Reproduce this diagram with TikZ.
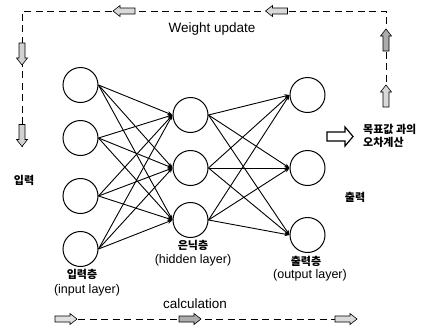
\documentclass[tikz,border=0pt]{standalone}
\usepackage{fontspec}
\setmainfont{Liberation Sans}
\newfontfamily\kr{Noto Sans CJK KR}
\usetikzlibrary{arrows.meta}
\begin{document}
\begin{tikzpicture}[x=1pt,y=-1pt,
  neuron/.style={circle,draw,line width=1pt,minimum size=35pt,inner sep=0pt},
  link/.style={line width=0.9pt,-{Stealth[length=5pt,width=4pt]}},
  frame/.style={line width=1pt,dash pattern=on 7pt off 4.5pt},
  entxt/.style={font=\fontsize{12.5}{13}\selectfont,inner sep=0pt},
  krtxt/.style={font=\kr\bfseries\fontsize{11}{12}\selectfont,inner sep=0pt},
  blk/.pic={\draw[fill=#1,line width=0.6pt] (-11,-3) -- (4,-3) -- (4,-5.5) -- (11,0) -- (4,5.5) -- (4,3) -- (-11,3) -- cycle;},
]
\useasboundingbox (0,0) rectangle (427,332);
% neurons
\node[neuron] (i1) at (80.5,85) {};
\node[neuron] (i2) at (80.5,138) {};
\node[neuron] (i3) at (80.5,196) {};
\node[neuron] (i4) at (80.5,249) {};
\node[neuron] (h1) at (190.5,115) {};
\node[neuron] (h2) at (190.5,168) {};
\node[neuron] (h3) at (190.5,220) {};
\node[neuron] (o1) at (307.5,95) {};
\node[neuron] (o2) at (307.5,168) {};
\node[neuron] (o3) at (307.5,235) {};
% links
\foreach \i in {1,2,3,4}{\foreach \h in {1,2,3}{\draw[link] (i\i.east) -- (h\h.west);}}
\foreach \h in {1,2,3}{\foreach \o in {1,2,3}{\draw[link] (h\h.east) -- (o\o.west);}}
% frame
\coordinate (fl) at (22,147);
\coordinate (ftl) at (22,11);
\coordinate (ftr) at (386,11);
\coordinate (fr) at (386,108);
\draw[frame] (fl) -- (ftl) -- (ftr) -- (fr);
\coordinate (bl) at (55,319);
\coordinate (br) at (357,319);
\draw[frame] (bl) -- (br);
% block arrows
\pic[rotate=180] at (124,11) {blk=gray!30};
\pic[rotate=180] at (276.5,11) {blk=gray!30};
\pic[rotate=-90] at (22,54) {blk=gray!35};
\pic[rotate=-90] at (22,135.5) {blk=gray!35};
\pic[rotate=90] at (386,40) {blk=gray!65};
\pic[rotate=90] at (386,96) {blk=gray!30};
\pic at (66,319) {blk=gray!25};
\pic at (190,319) {blk=gray!65};
\pic at (346,319) {blk=gray!30};
% hollow arrow
\draw[line width=1.2pt,fill=white] (327,132) -- (345,132) -- (345,127) -- (353,136.5) -- (345,146) -- (345,141) -- (327,141) -- cycle;
% texts
\node[font=\fontsize{13.5}{14}\selectfont,inner sep=0pt] (tw) at (212,29) {Weight update};
\node[font=\fontsize{13.5}{14}\selectfont,inner sep=0pt] (tc) at (195,304) {calculation};
\node[krtxt] (tin) at (24,180) {입력};
\node[krtxt] (tout) at (355,197) {출력};
\node[krtxt,anchor=west] (te1) at (363,129) {목표값 과의};
\node[krtxt,anchor=west] (te2) at (363,142) {오차계산};
\node[krtxt] (l1a) at (82,274) {입력층};
\node[entxt] (l1b) at (87,290) {(input layer)};
\node[krtxt] (l2a) at (193,245) {은닉층};
\node[entxt] (l2b) at (193,260) {(hidden layer)};
\node[krtxt] (l3a) at (306,261) {출력층};
\node[entxt] (l3b) at (310,275) {(output layer)};
\end{tikzpicture}
\end{document}
